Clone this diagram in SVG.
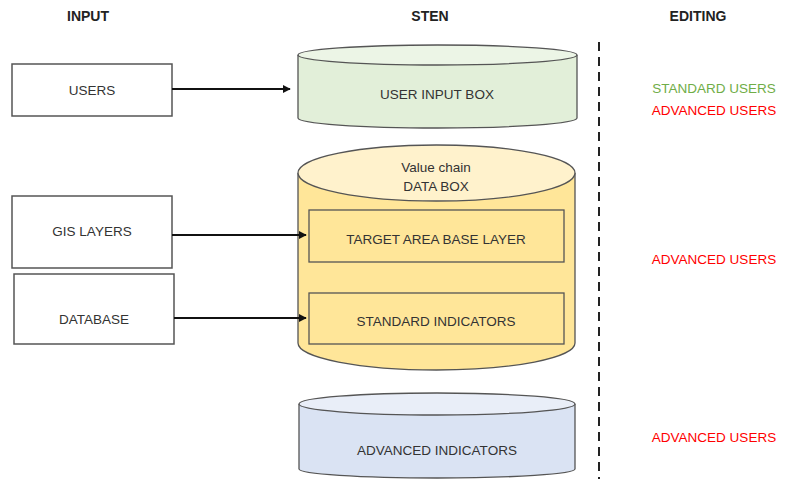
<svg xmlns="http://www.w3.org/2000/svg" width="785" height="479" viewBox="0 0 785 479">
  <style>
    text { font-family: "Liberation Sans", Arial, sans-serif; font-size: 13.5px; fill: #333; text-anchor: middle; dominant-baseline: central; }
    .head { font-weight: bold; font-size: 14px; fill: #222; }
    .box { fill: #fff; stroke: #555; stroke-width: 1.5; }
    .cyl { stroke: #555; stroke-width: 1.3; }
    .inner { fill: #ffe699; stroke: #555; stroke-width: 1.3; }
    .conn { stroke: #111; stroke-width: 2; fill: none; marker-end: url(#arrow); }
    .std { fill: #70ad47; }
    .adv { fill: #ff0000; }
  </style>
  <defs>
    <marker id="arrow" viewBox="0 0 10 10" refX="9" refY="5" markerWidth="4" markerHeight="4" orient="auto">
      <path d="M0,0 L10,5 L0,10 z" fill="#111"/>
    </marker>
  </defs>

  <rect width="785" height="479" fill="#fff"/>

  <!-- column headings -->
  <text class="head" x="88" y="16">INPUT</text>
  <text class="head" x="430" y="16">STEN</text>
  <text class="head" x="698" y="16">EDITING</text>

  <!-- divider -->
  <line x1="599" y1="42" x2="599" y2="479" stroke="#222" stroke-width="2" stroke-dasharray="9,6"/>

  <!-- input sources -->
  <g id="users">
    <rect class="box" x="12" y="64" width="160" height="52"/>
    <text x="92" y="90">USERS</text>
  </g>
  <g id="gis-layers">
    <rect class="box" x="12" y="196" width="160" height="72"/>
    <text x="92" y="231">GIS LAYERS</text>
  </g>
  <g id="database">
    <rect class="box" x="14" y="274" width="160" height="70"/>
    <text x="94" y="319">DATABASE</text>
  </g>

  <!-- user input store -->
  <g id="user-input-box">
    <path class="cyl" fill="#e2efd9" d="M298,55 L298,118 A139.5,10 0 0 0 577,118 L577,55"/>
    <ellipse class="cyl" fill="#ecf5e6" cx="437.5" cy="55" rx="139.5" ry="10"/>
    <text x="437" y="94">USER INPUT BOX</text>
  </g>

  <!-- value chain store -->
  <g id="value-chain-data-box">
    <path class="cyl" fill="#ffe699" d="M298,173 L298,343 A138.5,27 0 0 0 575,343 L575,173"/>
    <ellipse class="cyl" fill="#fff2cc" cx="436.5" cy="173" rx="138.5" ry="28"/>
    <text x="436" y="167">Value chain</text>
    <text x="436" y="186">DATA BOX</text>
  </g>
  <g id="target-area-base-layer">
    <rect class="inner" x="309" y="210" width="255" height="52"/>
    <text x="436" y="239">TARGET AREA BASE LAYER</text>
  </g>
  <g id="standard-indicators">
    <rect class="inner" x="309" y="293" width="255" height="51"/>
    <text x="436" y="321">STANDARD INDICATORS</text>
  </g>

  <!-- advanced indicators store -->
  <g id="advanced-indicators">
    <path class="cyl" fill="#dae3f3" d="M299,404 L299,469 A138,9 0 0 0 575,469 L575,404"/>
    <ellipse class="cyl" fill="#e9eef8" cx="437" cy="404" rx="138" ry="11"/>
    <text x="437" y="450">ADVANCED INDICATORS</text>
  </g>

  <!-- editing rights -->
  <g id="editing-labels">
    <text class="std" x="714" y="88">STANDARD USERS</text>
    <text class="adv" x="714" y="110">ADVANCED USERS</text>
    <text class="adv" x="714" y="259">ADVANCED USERS</text>
    <text class="adv" x="714" y="437">ADVANCED USERS</text>
  </g>

  <!-- connectors -->
  <g id="connectors">
    <line class="conn" x1="172" y1="89" x2="290" y2="89"/>
    <line class="conn" x1="172" y1="235" x2="306" y2="235"/>
    <line class="conn" x1="174" y1="318" x2="306" y2="318"/>
  </g>
</svg>
